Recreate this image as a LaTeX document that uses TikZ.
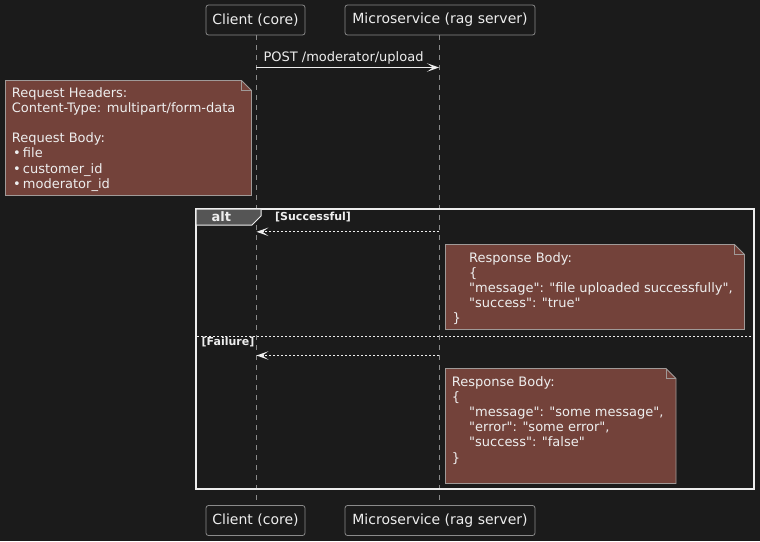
\documentclass[tikz,border=0pt]{standalone}
\usepackage{fontspec}
\setmainfont{DejaVu Sans}[Ligatures=TeXOff]
\usetikzlibrary{arrows.meta}
\definecolor{bg}{HTML}{1B1B1B}
\definecolor{notefill}{HTML}{73423A}
\definecolor{boxline}{HTML}{8A8A8A}
\definecolor{fg}{HTML}{EEEEEE}
\definecolor{tabfill}{HTML}{555555}
\definecolor{noteline}{HTML}{A09A98}
\begin{document}
\begin{tikzpicture}[x=1pt,y=-1pt,
  participant/.style={draw=boxline, fill=bg, rounded corners=2.5pt, minimum height=30pt, inner sep=0pt, text=fg, font=\fontsize{14}{16}\selectfont, line width=0.8pt},
  lifeline/.style={draw=boxline, dash pattern=on 5pt off 5pt, line width=0.7pt},
  msgsolid/.style={draw=fg, line width=0.9pt, -{Stealth[length=12pt,width=8.5pt,inset=6pt]}},
  msgdash/.style={draw=fg, line width=0.9pt, dash pattern=on 2pt off 2pt, -{Stealth[length=12pt,width=8.5pt,inset=6pt,line width=0pt]}},
  notebox/.style={draw=noteline, fill=notefill, line width=0.8pt},
  notetext/.style={anchor=base west, inner sep=0pt, text=fg, font=\fontsize{13}{15}\selectfont},
  msgtext/.style={anchor=base west, inner sep=0pt, text=fg, font=\fontsize{13}{15}\selectfont},
  guardtext/.style={anchor=base west, inner sep=0pt, text=fg, font=\bfseries\fontsize{11}{13}\selectfont},
  framebox/.style={draw=fg, line width=1.5pt}
]
\fill[bg] (0,0) rectangle (760,541);
\useasboundingbox (0,0) rectangle (760,541);

% participants
\node[participant, minimum width=99pt] (ct) at (255.5,20) {Client (core)};
\node[participant, minimum width=190pt] (mt) at (440,20) {Microservice (rag server)};
\node[participant, minimum width=99pt] (cb) at (255.5,520.5) {Client (core)};
\node[participant, minimum width=190pt] (mb) at (440,520.5) {Microservice (rag server)};

% lifelines
\coordinate (cl1) at (256,35);
\coordinate (cl2) at (256,505);
\coordinate (ml1) at (439,35);
\coordinate (ml2) at (439,505);
\draw[lifeline] (cl1) -- (cl2);
\draw[lifeline] (ml1) -- (ml2);

% message 1
\coordinate (m1a) at (256,67.5);
\coordinate (m1b) at (439,67.5);
\draw[msgsolid] (m1a) -- (m1b);
\node[msgtext] (m1t) at (263.3,61.8) {POST /moderator/upload};

% note 1
\draw[notebox] (5.5,80.5) -- (241.5,80.5) -- (251.5,90.5) -- (251.5,195.5) -- (5.5,195.5) -- cycle;
\draw[noteline, line width=0.8pt] (241.5,80.5) -- (241.5,90.5) -- (251.5,90.5);
\node[notetext] (n1a) at (11.7,97.5) {Request Headers:};
\node[notetext] (n1b) at (11.7,112.6) {Content-Type: multipart/form-data};
\node[notetext] (n1c) at (11.7,142.8) {Request Body:};
\node[notetext] (n1d) at (12.8,157.9) {•\hspace{2.3pt}file};
\node[notetext] (n1e) at (12.8,173) {•\hspace{2.3pt}customer\_id};
\node[notetext] (n1f) at (12.8,188.1) {•\hspace{2.3pt}moderator\_id};

% alt frame
\draw[framebox] (196,209) rectangle (754,489);
\draw[draw=fg, fill=tabfill, line width=1pt] (196,209) -- (261,209) -- (261,216) -- (252,225) -- (196,225) -- cycle;
\node[anchor=base west, inner sep=0pt, text=fg, font=\bfseries\fontsize{13}{15}\selectfont] (alt) at (211.5,221.5) {alt};
\node[guardtext] (g1) at (275,220.8) {[Successful]};
\draw[draw=fg, line width=0.9pt, dash pattern=on 2pt off 2pt] (197,336) -- (753,336);
\node[guardtext] (g2) at (201.5,345.8) {[Failure]};

% return 1
\coordinate (r1a) at (439,231.8);
\coordinate (r1b) at (256.5,231.8);
\draw[msgdash] (r1a) -- (r1b);

% note 2
\draw[notebox] (445.5,244.5) -- (734.5,244.5) -- (744.5,254.5) -- (744.5,329.5) -- (445.5,329.5) -- cycle;
\draw[noteline, line width=0.8pt] (734.5,244.5) -- (734.5,254.5) -- (744.5,254.5);
\node[notetext] (n2a) at (469,262.5) {Response Body:};
\node[notetext] (n2b) at (469,277.6) {\{};
\node[notetext] (n2c) at (469,292.7) {"message": "file uploaded successfully",};
\node[notetext] (n2d) at (469,307.8) {"success": "true"};
\node[notetext] (n2e) at (452.5,322.9) {\}};

% return 2
\coordinate (r2a) at (439,355.5);
\coordinate (r2b) at (256.5,355.5);
\draw[msgdash] (r2a) -- (r2b);

% note 3
\draw[notebox] (445.5,368.5) -- (666,368.5) -- (676,378.5) -- (676,483.5) -- (445.5,483.5) -- cycle;
\draw[noteline, line width=0.8pt] (666,368.5) -- (666,378.5) -- (676,378.5);
\node[notetext] (n3a) at (451.7,386.5) {Response Body:};
\node[notetext] (n3b) at (451.7,401.6) {\{};
\node[notetext] (n3c) at (469,416.7) {"message": "some message",};
\node[notetext] (n3d) at (469,431.8) {"error": "some error",};
\node[notetext] (n3e) at (469,446.9) {"success": "false"};
\node[notetext] (n3f) at (451.7,462) {\}};
\end{tikzpicture}
\end{document}
